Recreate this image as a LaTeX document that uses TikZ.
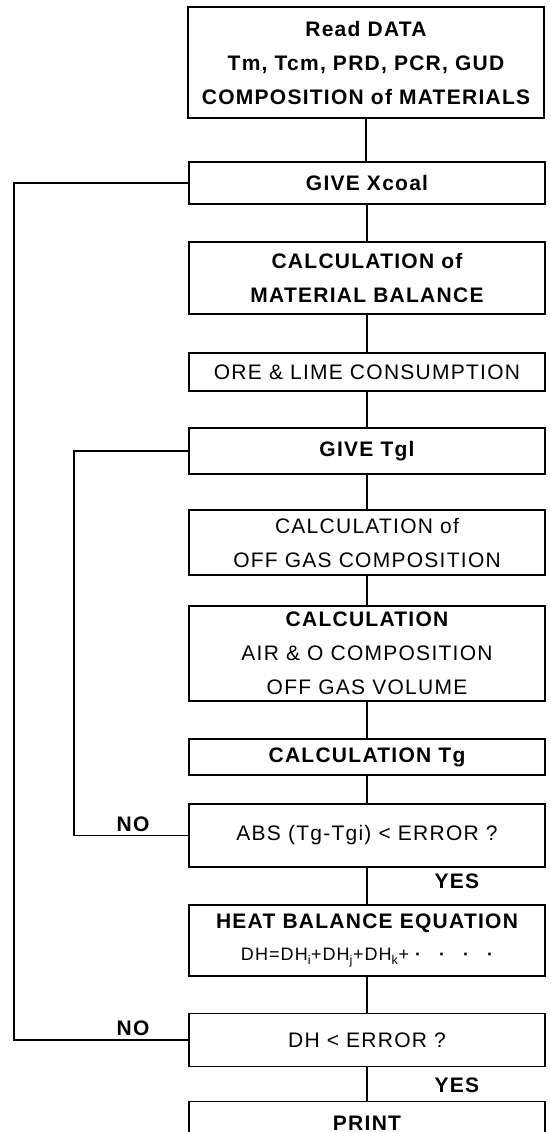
\documentclass[tikz,border=0pt]{standalone}
\usepackage{fontspec}
\setmainfont{Liberation Sans}[LetterSpace=6]
\usepackage{tikz}
\usetikzlibrary{positioning}

\begin{document}
\begin{tikzpicture}[
		x=1pt, y=-1pt,                                    % 坐标按像素计（y 向下）
		box/.style={draw, line width=1.3pt, minimum width=356pt, inner sep=0pt,
			align=center, font=\fontsize{21}{34}\selectfont},   % 普通流程框
		boldbox/.style={box, font=\bfseries\fontsize{21}{34}\selectfont}, % 粗体流程框
		link/.style={line width=1.3pt},                   % 连线
		answer/.style={font=\bfseries\fontsize{21}{24}\selectfont} % NO / YES 标注
		]
		\clip (0,0) rectangle (551,1132);
		% 主流程
		\node[boldbox, minimum height=111pt] (read) at (366,62.5)
			{Read DATA\\Tm, Tcm, PRD, PCR, GUD\\COMPOSITION of MATERIALS};
		\node[boldbox, minimum height=42pt] (xcoal) at (367,183) {GIVE Xcoal};
		\node[boldbox, minimum height=72pt] (matbal) at (367,278) {CALCULATION of\\MATERIAL BALANCE};
		\node[box, minimum height=38pt] (ore) at (367,372) {ORE \& LIME CONSUMPTION};
		\node[boldbox, minimum height=46pt] (tgl) at (367,451) {GIVE Tgl};
		\node[box, minimum height=65pt] (offgas) at (367,542.5) {CALCULATION of\\OFF GAS COMPOSITION};
		\node[box, minimum height=95pt] (air) at (367,653.5)
			{{\bfseries CALCULATION}\\AIR \& O COMPOSITION\\OFF GAS VOLUME};
		\node[boldbox, minimum height=36pt] (tg) at (367,757) {CALCULATION Tg};
		\node[box, minimum height=63pt] (abs) at (367,835.5) {ABS (Tg-Tgi) < ERROR ?};
		\node[box, minimum height=71pt] (heat) at (367,940.5)
			{{\bfseries HEAT BALANCE EQUATION}\\[-2pt]
			{\fontsize{18}{20}\selectfont DH=DH\textsubscript{i}+DH\textsubscript{j}+DH\textsubscript{k}+ {\bfseries ·\quad ·\quad ·\quad ·}}};
		\node[box, minimum height=53pt] (dh) at (367,1040) {DH < ERROR ?};
		\node[boldbox, anchor=north, inner ysep=15pt, text height=14pt, text depth=12pt] (print) at (367,1101) {PRINT};

		\draw[link] (read.south) -- (read.south |- xcoal.north);
		\foreach \a/\b in {xcoal/matbal, matbal/ore, ore/tgl, tgl/offgas, offgas/air,
			air/tg, tg/abs, abs/heat, heat/dh, dh/print}
			\draw[link] (\a.south) -- (\b.north);

		% 回路
		\coordinate (inner) at (74,0);
		\coordinate (outer) at (14,0);
		\draw[link] (abs.west) -- (inner |- abs.west) -- (inner |- tgl.west) -- (tgl.west);
		\draw[link] (dh.west) -- (outer |- dh.west) -- (outer |- xcoal.west) -- (xcoal.west);

		\node[answer] (no1) at (133,824) {NO};
		\node[answer] (no2) at (133,1028) {NO};
		\node[answer] (yes1) at (457,881) {YES};
		\node[answer] (yes2) at (457,1085) {YES};
	\end{tikzpicture}
\end{document}
